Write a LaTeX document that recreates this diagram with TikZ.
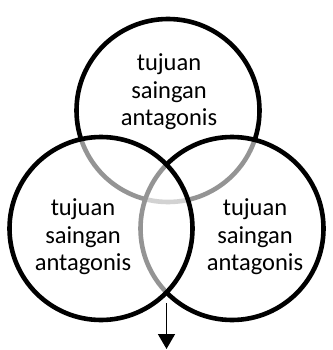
\documentclass[tikz,border=0pt]{standalone}
\usepackage{fontspec}
\setmainfont{Carlito}
\usetikzlibrary{arrows.meta}
\begin{document}
\begin{tikzpicture}[x=1pt,y=-1pt,
  ring/.style={circle, draw=black, line width=4.6pt, fill=white, fill opacity=0.58, text opacity=1,
    minimum size=183pt, inner sep=0pt, outer sep=0pt},
  label/.style={align=center, font=\fontsize{24.5}{27.5}\selectfont},
  arrowline/.style={line width=1.6pt, -{Triangle[length=15pt,width=17pt]}}]
\useasboundingbox (0,0) rectangle (332,350);
\node[ring] (T) at (168,110.5) {};
\node[ring] (R) at (232,228.5) {};
\node[ring] (L) at (101,228.5) {};
\node[label] (tT) at (169,92) {tujuan\\saingan\\antagonis};
\node[label] (tL) at (83,237) {tujuan\\saingan\\antagonis};
\node[label] (tR) at (255,237) {tujuan\\saingan\\antagonis};
\coordinate (a) at (166.5,303);
\coordinate (b) at (166.5,349);
\draw[arrowline] (a) -- (b);
\end{tikzpicture}
\end{document}
